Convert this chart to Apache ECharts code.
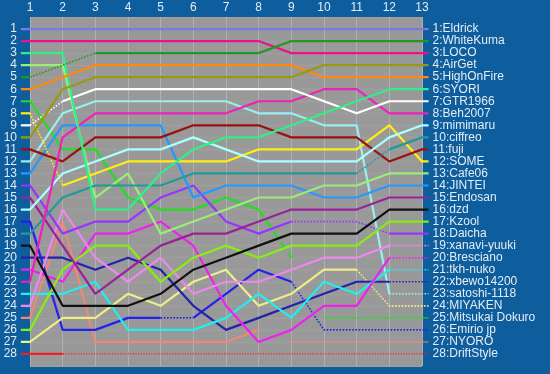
<!DOCTYPE html>
<html><head><meta charset="utf-8">
<script src="https://cdn.jsdelivr.net/npm/echarts@6/dist/echarts.min.js"></script>
<style>html,body{margin:0;padding:0;background:#0e5e9e;}#c{width:550px;height:374px;}</style>
</head><body><div id="c"></div>
<script>
// ---- data ----
const laps = [1,2,3,4,5,6,7,8,9,10,11,12,13];
const ranks = [1,2,3,4,5,6,7,8,9,10,11,12,13,14,15,16,17,18,19,20,21,22,23,24,25,26,27,28];
const drivers = ['Eldrick','WhiteKuma','LOCO','AirGet','HighOnFire','SYORI','GTR1966','Beh2007','mimimaru','ciffreo','fuji','SOME','Cafe06','JINTEI','Endosan','dzd','Kzool','Daicha','xanavi-yuuki','Bresciano','tkh-nuko','xbewo14200','satoshi-1118','MIYAKEN','Mitsukai Dokuro','Emirio jp','NYORO','DriftStyle'];
const pEldrick   = [1,1,1,1,1,1,1,1,1,1,1,1,1];
const pWhiteKuma = [5,4,3,3,3,3,3,3,2,2,2,2,2];
const pLOCO      = [2,2,2,2,2,2,2,2,3,3,3,3,3];
const pAirGet    = [10,6,5,5,5,5,5,5,5,4,4,4,4];
const pHighOnFire= [6,5,4,4,4,4,4,4,4,5,5,5,5];
const pSYORI     = [3,3,16,16,13,11,10,10,9,8,7,6,6];
const pGTR1966   = [9,7,6,6,6,6,6,6,6,7,8,7,7];
const pBeh2007   = [22,10,8,8,8,8,8,7,7,6,6,8,8];
const pMimimaru  = [16,13,12,11,11,10,11,12,12,12,12,10,9];
const pCiffreo   = [18,15,14,14,14,13,13,13,13,13,13,11,10];
const pFuji      = [11,12,10,10,10,9,9,9,10,10,10,12,11];
const pSOME      = [8,14,13,12,12,12,12,11,11,11,11,9,12];
const pCafe06    = [4,4,15,13,18,17,16,15,15,14,14,13,13];
const pJINTEI    = [13,9,9,9,9,15,14,14,14,15,15,14,14];
const pEndosan   = [15,19,23,21,19,18,18,17,16,16,16,15,15];
const pDzd       = [19,24,24,24,23,21,20,19,18,18,18,16,16];
const pKzool     = [26,21,19,19,22,20,19,20,19,19,19,17,17];
const pDaicha    = [14,18,17,17,15,14,17,18,17,17,17,18,18];
const pXanavi    = [24,16,20,22,20,23,22,22,21,20,20,19,19];
const pBresciano = [21,22,18,18,17,19,24,27,26,24,24,20,20];
const pTkh       = [23,23,22,26,26,26,25,23,25,22,23,21,21];
const pXbewo     = [20,20,21,20,21,24,26,25,24,23,22,22,22];
const pSatoshi   = [12,8,7,7,7,7,7,8,8,9,9,23,23];
const pMIYAKEN   = [27,25,25,23,24,22,21,24,23,21,21,24,24];
const pMitsukai  = [7,11,11,15,16,16,15,16,20,25,25,25,25];
const pEmirio    = [17,26,26,25,25,25,23,21,22,26,26,26,26];
const pNYORO     = [25,17,27,27,27,27,27,26,27,27,27,27,27];
const pDrift     = [28,28,28,28,28,28,28,28,28,28,28,28,28];
const allPos = [pEldrick,pWhiteKuma,pLOCO,pAirGet,pHighOnFire,pSYORI,pGTR1966,pBeh2007,pMimimaru,pCiffreo,pFuji,pSOME,pCafe06,pJINTEI,pEndosan,pDzd,pKzool,pDaicha,pXanavi,pBresciano,pTkh,pXbewo,pSatoshi,pMIYAKEN,pMitsukai,pEmirio,pNYORO,pDrift];
// segment kinds between consecutive laps: s solid, d dotted, x dashed, t thin, e thin dotted, - none
const segKinds = ['ssssssssssss','ddssssssssss','ssssssssssss','ssssssssssss','ssssssssssss','ssssssssssss','dsssssssssss','ssssssssssss','ssssssssssss','ssssssssssds','ssssssssssss','dsssssssssss','ssssssssssss','ssssssssssss','ssssssssssss','ssssssssssss','ssssssssssss','ssssssssddds','sssssssssssd','sssssssssssd','sssssssssssd','sssssssssssd','sssssssssssd','ssssssssssdd','sssssssx-ttt','ssssdsssdddd','sssssss-tttt','seeeeeeeeeee'];

// ---- styles ----
const colors = ['#7a7ae0','#229922','#ee1188','#999911','#ff8811','#33ee88','#ffffff','#ee22bb','#aaffff','#229999','#991111','#ffee11','#99ee77','#2299ff','#992299','#111111','#88ee11','#9933ff','#ee88ee','#ee22ee','#22eeee','#2222aa','#99eeee','#eeee88','#22dd22','#2222ee','#ee8877','#ee2222'];
const kindStyle = {s:{type:'solid',width:2.2}, d:{type:'dotted',width:1.6}, x:{type:'dashed',width:2.2}, t:{type:'solid',width:1}, e:{type:'dotted',width:1.3}};
const textColor = '#e4ecf4';
const X0 = 0.72, X1 = 13.2;
const gL = 30, gR = 128;
const U = (550 - gL - gR) / 12;

const series = [];
for (let i = allPos.length - 1; i >= 0; i--) {
  const p = allPos[i];
  const pts = [[X0, p[0]]].concat(laps.map((l, k) => [l, p[k]])).concat([[X1, p[p.length - 1]]]);
  const segs = segKinds[i];
  const kinds = ['s'].concat(segs.split('')).concat([segs[segs.length - 1]]);
  let k = 0;
  while (k < kinds.length) {
    const kind = kinds[k];
    let j = k;
    while (j + 1 < kinds.length && kinds[j + 1] === kind) j++;
    if (kind !== '-') {
      series.push({
        type: 'line', xAxisIndex: 0, yAxisIndex: 0, silent: true,
        symbol: 'none', animation: false,
        data: pts.slice(k, j + 2),
        lineStyle: Object.assign({color: colors[i]}, kindStyle[kind])
      });
    }
    k = j + 1;
  }
}
series.push({type:'line', xAxisIndex:1, yAxisIndex:1, data:[], silent:true});

const chart = echarts.init(document.getElementById('c'), null, {renderer:'canvas'});
chart.setOption({
  backgroundColor: '#0e5e9e',
  animation: false,
  grid: [
    {left: gL - (1 - X0) * U, right: gR - (X1 - 13) * U, top: 17, bottom: 8, containLabel: false},
    {left: gL, right: gR, top: 17, bottom: 8, show: true, backgroundColor: '#999999', borderWidth: 0, containLabel: false}
  ],
  xAxis: [
    {gridIndex: 0, type: 'value', min: X0, max: X1, show: false},
    {gridIndex: 1, type: 'value', min: 1, max: 13, interval: 1, position: 'top',
     axisLine: {show: false}, axisTick: {show: false},
     axisLabel: {color: textColor, fontSize: 12, fontFamily: 'Liberation Sans, Arial', margin: 3},
     splitLine: {show: true, lineStyle: {color: '#b0b0b0', width: 1}}}
  ],
  yAxis: [
    {gridIndex: 0, type: 'value', inverse: true, min: 0, max: 29, show: false},
    {gridIndex: 1, type: 'value', inverse: true, min: 0, max: 29, interval: 1, position: 'left',
     axisLine: {show: false}, axisTick: {show: false},
     axisLabel: {color: textColor, fontSize: 12, fontFamily: 'Liberation Sans, Arial', margin: 13,
       formatter: v => (ranks.indexOf(v) >= 0 ? String(v) : '')},
     splitLine: {show: true, lineStyle: {color: '#a0a0a0', width: 1}}},
    {gridIndex: 0, type: 'value', inverse: true, min: 0, max: 29, interval: 1, position: 'right',
     axisLine: {show: false}, axisTick: {show: false}, splitLine: {show: false},
     axisLabel: {color: textColor, fontSize: 12, fontFamily: 'Liberation Sans, Arial', margin: 4,
       formatter: v => (ranks.indexOf(v) >= 0 ? v + ':' + drivers[v - 1] : '')}}
  ],
  series: series
});
</script>
</body></html>
